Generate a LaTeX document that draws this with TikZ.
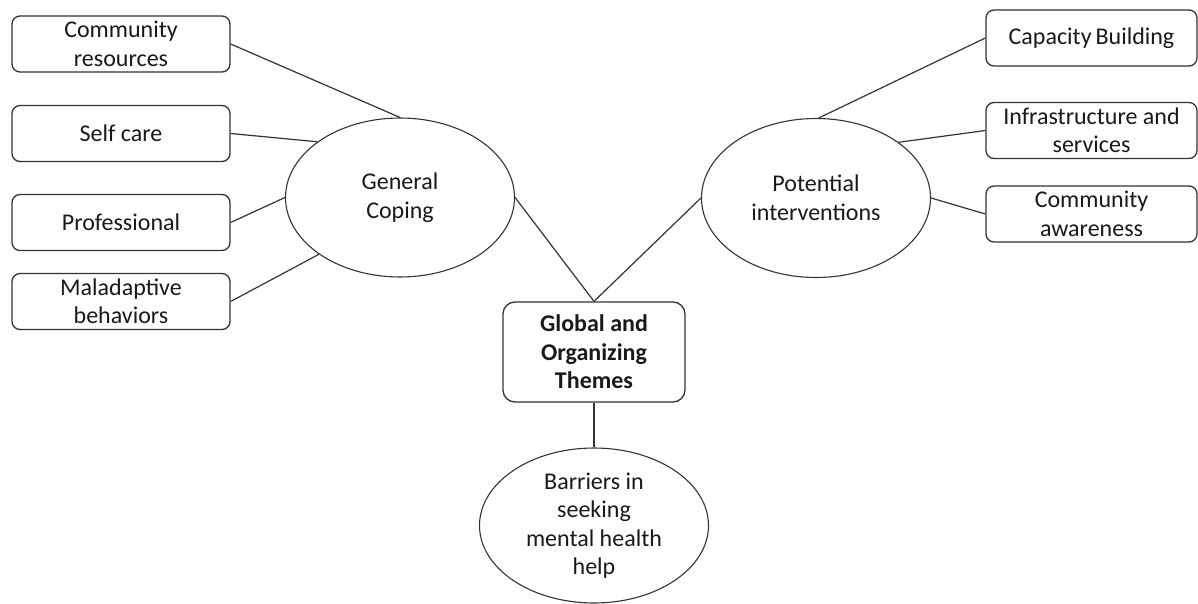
\documentclass[tikz,border=0pt]{standalone}
\usepackage{fontspec}
\setmainfont{Carlito}
\usetikzlibrary{shapes.geometric}
\tikzset{
  leaf/.style={draw=black!80, line width=1.3pt, rounded corners=8pt, minimum width=218pt, minimum height=56pt, inner sep=0pt, align=center, font=\fontsize{24}{28.5}\selectfont, text=black!90},
  theme/.style={draw=black!80, line width=1.1pt, ellipse, minimum width=229pt, minimum height=159pt, inner sep=0pt, align=center, font=\fontsize{24}{28.5}\selectfont, text=black!90},
  hub/.style={draw=black!80, line width=1.3pt, rounded corners=12pt, minimum width=182pt, minimum height=100pt, inner sep=0pt, align=center, font=\fontsize{24}{28.5}\selectfont\bfseries, text=black!90},
  link/.style={draw=black!80, line width=1.2pt}
}
\begin{document}
\begin{tikzpicture}[x=1pt,y=-1pt]
\useasboundingbox (0,0) rectangle (1198,604);
% left leaves
\node[leaf] (cr) at (121,44) {Community\\resources};
\node[leaf] (sc) at (121,133.5) {Self care};
\node[leaf] (pr) at (121,222.5) {Professional};
\node[leaf] (mb) at (121,301.5) {Maladaptive\\behaviors};
% right leaves
\node[leaf, minimum width=211pt] (cb) at (1091.5,38) {Capacity\,Building};
\node[leaf, minimum width=211pt] (is) at (1091.5,130.5) {Infrastructure and\\services};
\node[leaf, minimum width=211pt] (ca) at (1091.5,214) {Community\\awareness};
% themes
\node[theme] (gc) at (400,197.5) {General\\Coping};
\node[theme] (pi) at (816,198) {Potential\\interventions};
\node[theme, minimum height=155pt] (bh) at (594,525.5) {Barriers in\\seeking\\mental health\\help};
% hub
\node[hub] (hub) at (594,352) {Global and\\Organizing\\Themes};
% connectors
\draw[link] (cr.east) -- (gc.90);
\draw[link] (sc.east) -- (gc.146);
\draw[link] (pr.east) -- (gc.180);
\draw[link] (mb.east) -- (gc.215);
\draw[link] (cb.west) -- (pi.88);
\draw[link] (is.west) -- (pi.34);
\draw[link] (ca.west) -- (pi.0);
\draw[link] (gc.0) -- (hub.north);
\draw[link] (pi.180) -- (hub.north);
\draw[link] (hub.south) -- (bh.north);
\end{tikzpicture}
\end{document}
